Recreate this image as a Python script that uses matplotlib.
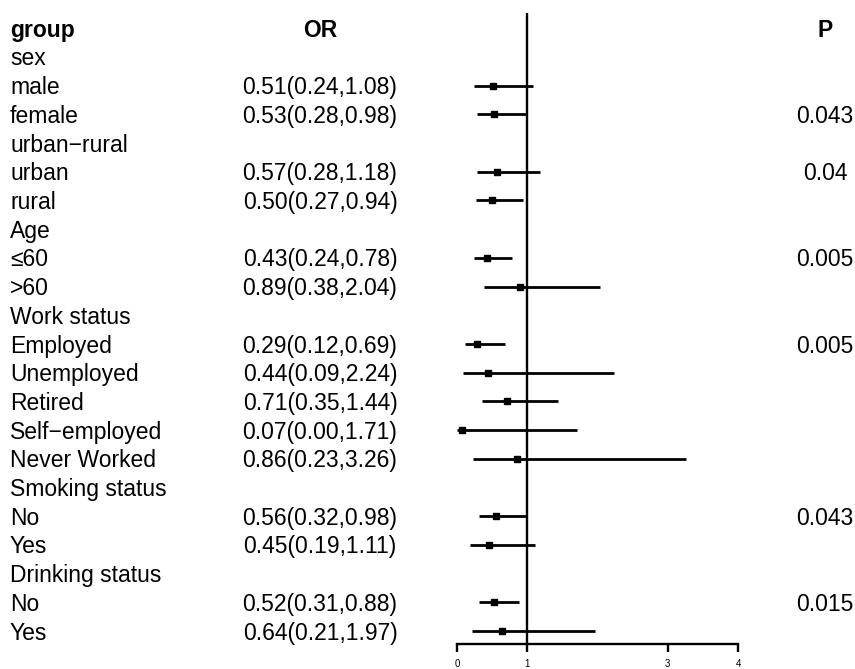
import matplotlib.pyplot as plt
from matplotlib.transforms import blended_transform_factory

plt.rcParams['font.family'] = ['Liberation Sans', 'DejaVu Sans']

# rows below the header line
labels = ["sex", "male", "female", "urban\u2212rural", "urban", "rural",
          "Age", "\u226460", ">60", "Work status", "Employed", "Unemployed",
          "Retired", "Self\u2212employed", "Never Worked", "Smoking status",
          "No", "Yes", "Drinking status", "No", "Yes"]
odds = [None, 0.51, 0.53, None, 0.57, 0.50, None, 0.43, 0.89, None,
        0.29, 0.44, 0.71, 0.07, 0.86, None, 0.56, 0.45, None, 0.52, 0.64]
lower = [None, 0.24, 0.28, None, 0.28, 0.27, None, 0.24, 0.38, None,
         0.12, 0.09, 0.35, 0.00, 0.23, None, 0.32, 0.19, None, 0.31, 0.21]
upper = [None, 1.08, 0.98, None, 1.18, 0.94, None, 0.78, 2.04, None,
         0.69, 2.24, 1.44, 1.71, 3.26, None, 0.98, 1.11, None, 0.88, 1.97]
pvals = ["", "", "0.043", "", "0.04", "", "", "0.005", "", "", "0.005", "",
         "", "", "", "", "0.043", "", "", "0.015", ""]
xticks = [0, 1, 3, 4]

fig = plt.figure(figsize=(8.55, 6.69), dpi=100)
W, H = 855, 669
ax = fig.add_axes([457 / W, 1 - 644 / H, (738 - 457) / W, (644 - 13) / H])
ax.set_xlim(0, 4)
ax.set_ylim(21.45, -0.53)

rows = list(range(1, len(labels) + 1))
for r, o, lo, hi in zip(rows, odds, lower, upper):
    if o is None:
        continue
    ax.plot([lo, hi], [r, r], color='black', lw=2.0, solid_capstyle='butt')
    ax.plot(o, r, marker='s', color='black', markersize=5)

ax.axvline(1, color='black', lw=1.7)

for s in ['top', 'right', 'left']:
    ax.spines[s].set_visible(False)
ax.spines['bottom'].set_linewidth(1.7)
ax.set_yticks([])
ax.set_xticks(xticks)
ax.set_xticklabels([str(t) for t in xticks])
ax.tick_params(axis='x', length=6, width=1.7, labelsize=7, pad=5)

fs = 16.5
dy = 0.07  # small nudge so text sits like the original
tr = blended_transform_factory(fig.transFigure, ax.transData)
ax.text(10 / W, dy, "group", transform=tr, fontsize=fs, fontweight='bold',
        ha='left', va='center', clip_on=False)
ax.text(320 / W, dy, "OR", transform=tr, fontsize=fs, fontweight='bold',
        ha='center', va='center', clip_on=False)
ax.text(825 / W, dy, "P", transform=tr, fontsize=fs, fontweight='bold',
        ha='center', va='center', clip_on=False)

for r, lab, o, lo, hi, p in zip(rows, labels, odds, lower, upper, pvals):
    ax.text(10 / W, r + dy, lab, transform=tr, fontsize=fs, ha='left',
            va='center', clip_on=False)
    if o is not None:
        ax.text(320 / W, r + dy, f"{o:.2f}({lo:.2f},{hi:.2f})", transform=tr,
                fontsize=fs, ha='center', va='center', clip_on=False)
    if p:
        ax.text(825 / W, r + dy, p, transform=tr, fontsize=fs, ha='center',
                va='center', clip_on=False)

fig.savefig('out.png', dpi=100)
